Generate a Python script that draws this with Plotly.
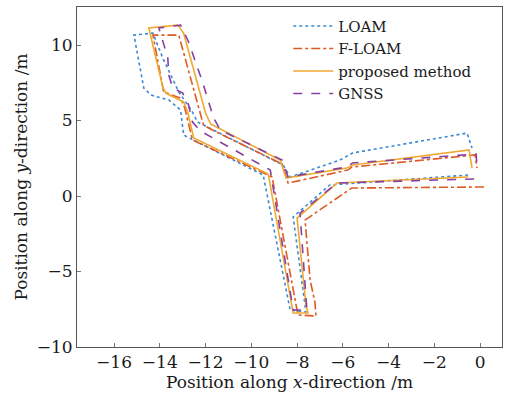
import plotly.graph_objects as go

# ---- data ----
loam_x = [-0.52, -6.57, -8.17, -7.78, -7.61, -8.30, -9.48, -12.96, -13.09, -13.61, -14.39, -14.70,
          -15.13, -14.30, -13.87, -13.17, -12.57, -12.35, -8.61, -8.30, -6.13, -5.57, -0.57, -0.35]
loam_y = [1.39, 0.73, -1.39, -5.76, -7.68, -7.55, 1.39, 4.04, 5.70, 6.36, 6.69, 7.15,
          10.66, 10.79, 9.14, 6.89, 5.56, 4.90, 2.05, 1.26, 2.38, 2.85, 4.17, 3.18]

floam_x = [0.17, -5.61, -7.65, -7.43, -7.22, -7.17, -7.96, -9.09, -12.57, -12.91, -13.09, -13.83,
           -14.30, -13.17, -12.09, -11.70, -8.65, -8.39, -5.78, -5.61, -0.22, -0.13]
floam_y = [0.60, 0.53, -1.59, -5.56, -7.02, -7.95, -7.88, 1.26, 3.71, 5.83, 6.49, 6.89,
           10.66, 10.66, 4.70, 4.37, 2.12, 0.86, 1.72, 1.92, 2.72, 1.85]

prop_x = [-0.52, -6.26, -8.00, -7.61, -7.52, -8.17, -9.26, -12.52, -12.78, -12.96, -13.74, -13.87,
          -14.48, -13.22, -12.96, -12.00, -11.78, -8.74, -8.48, -5.83, -5.57, -0.48, -0.35]
prop_y = [1.26, 0.86, -1.46, -7.22, -7.75, -7.75, 1.46, 3.84, 5.56, 6.23, 6.82, 7.22,
          11.13, 11.32, 10.79, 5.50, 4.77, 2.38, 1.19, 1.85, 2.05, 3.05, 1.85]

gnss_x = [-0.26, -6.26, -7.87, -7.57, -8.17, -9.17, -12.22, -12.57, -12.74, -13.00, -13.43, -13.61,
          -13.65, -14.04, -13.09, -12.74, -12.13, -11.65, -11.35, -8.65, -8.39, -5.83, -5.57, -0.17, -0.13]
gnss_y = [1.13, 0.86, -1.13, -7.55, -7.55, 1.72, 4.30, 4.90, 6.03, 6.82, 7.15, 8.01,
          9.14, 11.13, 11.32, 10.20, 7.55, 5.17, 4.37, 2.38, 1.26, 1.92, 2.19, 2.78, 1.85]

x_ticks = [-16, -14, -12, -10, -8, -6, -4, -2, 0]
y_ticks = [-10, -5, 0, 5, 10]

FONT = "DejaVu Serif"

fig = go.Figure()
fig.add_trace(go.Scatter(x=loam_x, y=loam_y, mode="lines", name="LOAM",
                         line=dict(color="#3a8ad4", width=1.6, dash="dot")))
fig.add_trace(go.Scatter(x=floam_x, y=floam_y, mode="lines", name="F-LOAM",
                         line=dict(color="#de5a24", width=1.6, dash="dashdot")))
fig.add_trace(go.Scatter(x=prop_x, y=prop_y, mode="lines", name="proposed method",
                         line=dict(color="#efa830", width=1.6, dash="solid")))
fig.add_trace(go.Scatter(x=gnss_x, y=gnss_y, mode="lines", name="GNSS",
                         line=dict(color="#8840a0", width=1.6, dash="dash")))

axis_common = dict(showgrid=False, zeroline=False, showline=True, mirror=True,
                   linecolor="#555555", linewidth=1, ticks="inside", ticklen=4,
                   tickcolor="#777777", automargin=False,
                   tickfont=dict(family=FONT, size=17, color="#1a1a1a"))

fig.update_layout(
    width=506, height=397,
    margin=dict(l=77, r=4, t=7, b=50),
    paper_bgcolor="white", plot_bgcolor="white",
    font=dict(family=FONT, size=17, color="#1a1a1a"),
    xaxis=dict(range=[-17.62, 0.96], tickvals=x_ticks,
               title=dict(text="Position along <i>x</i>-direction /m", standoff=0,
                          font=dict(family=FONT, size=17)), **axis_common),
    yaxis=dict(range=[-10, 12.52], tickvals=y_ticks,
               title=dict(text="Position along <i>y</i>-direction /m", standoff=4,
                          font=dict(family=FONT, size=17)), **axis_common),
    legend=dict(x=0.497, y=0.992, xanchor="left", yanchor="top",
                bgcolor="rgba(255,255,255,0.9)", borderwidth=0,
                font=dict(family=FONT, size=15, color="#1a1a1a"),
                tracegroupgap=0, itemwidth=40),
    showlegend=True,
)

fig.write_html("out.html", config={"displayModeBar": False},
               post_script="document.body.style.margin='0';document.body.style.padding='0';")
